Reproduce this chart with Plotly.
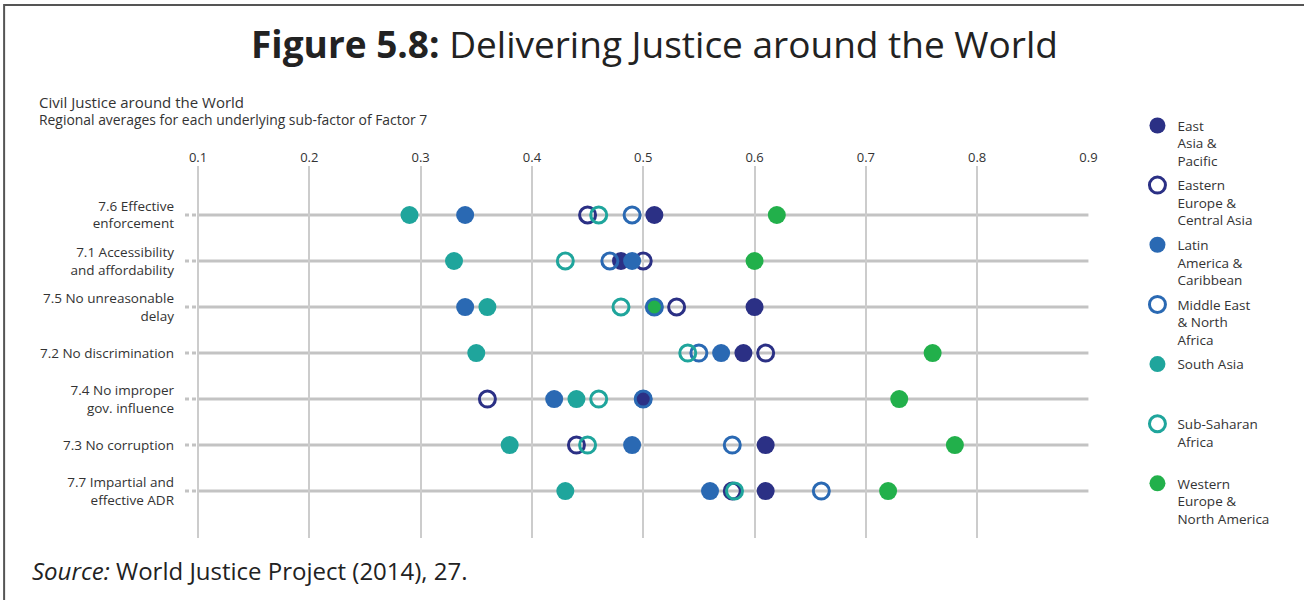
import plotly.graph_objects as go

categories = ["7.6 Effective<br>enforcement", "7.1 Accessibility<br>and affordability",
              "7.5 No unreasonable<br>delay", "7.2 No discrimination",
              "7.4 No improper<br>gov. influence", "7.3 No corruption",
              "7.7 Impartial and<br>effective ADR"]
x_ticks = [0.1, 0.2, 0.3, 0.4, 0.5, 0.6, 0.7, 0.8, 0.9]

east_asia = [0.51, 0.48, 0.60, 0.59, 0.50, 0.61, 0.61]
eastern_europe = [0.45, 0.50, 0.53, 0.61, 0.36, 0.44, 0.58]
latin_america = [0.34, 0.49, 0.34, 0.57, 0.42, 0.49, 0.56]
mena = [0.49, 0.47, 0.51, 0.55, 0.50, 0.58, 0.66]
south_asia = [0.29, 0.33, 0.36, 0.35, 0.44, 0.38, 0.43]
sub_saharan = [0.46, 0.43, 0.48, 0.54, 0.46, 0.45, 0.582]
western = [0.62, 0.60, 0.51, 0.76, 0.73, 0.78, 0.72]

NAVY = "#2b3085"
BLUE = "#2a69b3"
TEAL = "#1fa59c"
GREEN = "#22b04b"
FONT = "Open Sans"

series = [
    # name, values, colour, open?, legend rank
    ("Western<br>Europe &<br>North America", western, GREEN, False, 7),
    ("East<br>Asia &<br>Pacific", east_asia, NAVY, False, 1),
    ("Eastern<br>Europe &<br>Central Asia", eastern_europe, NAVY, True, 2),
    ("Latin<br>America &<br>Caribbean", latin_america, BLUE, False, 3),
    ("Middle East<br>& North<br>Africa", mena, BLUE, True, 4),
    ("South Asia<br> <br> ", south_asia, TEAL, False, 5),
    ("Sub-Saharan<br>Africa<br> ", sub_saharan, TEAL, True, 6),
]

fig = go.Figure()
for name, vals, col, is_open, rank in series:
    if is_open:
        marker = dict(symbol="circle-open", size=16, color=col, line=dict(color=col, width=3))
    else:
        marker = dict(symbol="circle", size=18, color=col, line=dict(width=0))
    fig.add_trace(go.Scatter(
        x=vals, y=categories, mode="markers", name=name, marker=marker,
        legendrank=rank, legendgroup=str(rank), cliponaxis=False,
    ))

shapes = []
for c in categories:
    shapes.append(dict(type="line", xref="x", yref="y", x0=x_ticks[0], x1=x_ticks[-1],
                       y0=c, y1=c, line=dict(color="#c3c3c3", width=3), layer="below"))
    shapes.append(dict(type="line", xref="x", yref="y", x0=0.0883, x1=x_ticks[0],
                       y0=c, y1=c, line=dict(color="#c3c3c3", width=3, dash="4px,3px"),
                       layer="below"))
# frame
shapes.append(dict(type="rect", xref="paper", yref="paper", x0=-0.2001, x1=1.4,
                   y0=-0.4, y1=1.4328, line=dict(color="#555555", width=2),
                   fillcolor="rgba(0,0,0,0)"))

annotations = [
    dict(text="Civil Justice around the World", xref="paper", yref="paper",
         x=-0.1636, y=1.172, xanchor="left", yanchor="middle", showarrow=False,
         font=dict(family=FONT, size=15, color="#333333")),
    dict(text="Regional averages for each underlying sub-factor of Factor 7", xref="paper",
         yref="paper", x=-0.1636, y=1.124, xanchor="left", yanchor="middle",
         showarrow=False, font=dict(family=FONT, size=13.9, color="#333333")),
    dict(text="<i>Source:</i> World Justice Project (2014), 27.", xref="paper", yref="paper",
         x=-0.1714, y=-0.0887, xanchor="left", yanchor="middle", showarrow=False,
         font=dict(family=FONT, size=24, color="#222222")),
]

fig.update_layout(
    width=1304, height=600,
    margin=dict(l=185, r=214.5, t=166, b=62),
    paper_bgcolor="white", plot_bgcolor="white",
    title=dict(text="<b>Figure 5.8:</b> Delivering Justice around the World",
               x=0.5019, xref="container", xanchor="center",
               y=1 - 45 / 600, yref="container", yanchor="middle",
               font=dict(family=FONT, size=37, color="#222222")),
    xaxis=dict(range=[0.0883, 0.9005], side="top", tickvals=x_ticks,
               ticktext=[str(t) for t in x_ticks], showgrid=True,
               gridcolor="#cccccc", gridwidth=1.5, zeroline=False, showline=False,
               ticks="", tickfont=dict(family=FONT, size=13, color="#333333")),
    yaxis=dict(type="category", categoryorder="array", categoryarray=categories,
               range=[7.02, -1.065], showgrid=False, zeroline=False, showline=False,
               ticks="", ticklabelstandoff=10,
               tickfont=dict(family=FONT, size=13.5, color="#333333")),
    showlegend=True,
    legend=dict(x=1.0536, y=1.150, xanchor="left", yanchor="top",
                traceorder="grouped", tracegroupgap=4, valign="top", maxheight=600,
                font=dict(family=FONT, size=13.5, color="#333333"),
                bgcolor="rgba(0,0,0,0)", itemsizing="trace"),
    shapes=shapes,
    annotations=annotations,
)

fig.write_html("out.html", config={"displayModeBar": False},
               post_script="document.body.style.margin='0';document.body.style.overflow='hidden';")
